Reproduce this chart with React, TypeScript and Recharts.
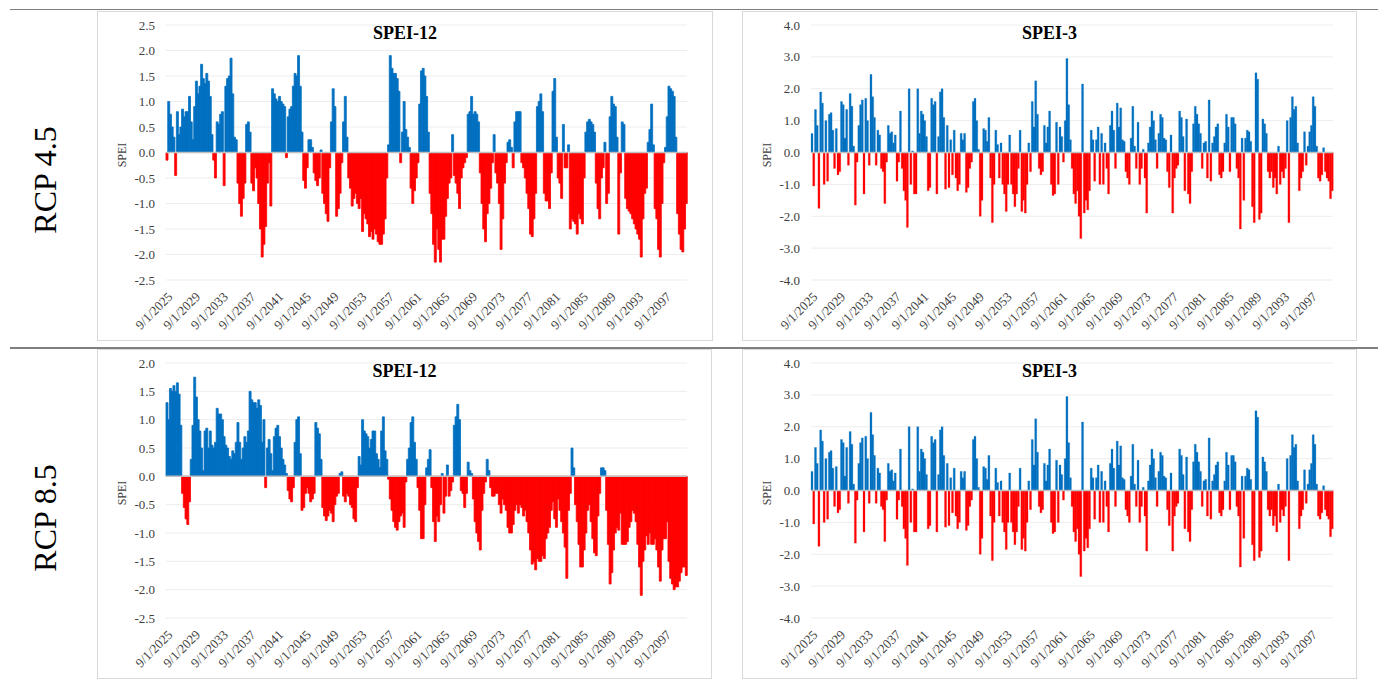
import React from 'react';
import { BarChart, Bar, XAxis, YAxis, CartesianGrid, ReferenceLine, Cell } from 'recharts';

// Quarterly SPEI values (Sep 2025 .. Sep 2100), 4 per year
const tickLabels = [
  '9/1/2025', '9/1/2029', '9/1/2033', '9/1/2037', '9/1/2041', '9/1/2045', '9/1/2049',
  '9/1/2053', '9/1/2057', '9/1/2061', '9/1/2065', '9/1/2069', '9/1/2073', '9/1/2077',
  '9/1/2081', '9/1/2085', '9/1/2089', '9/1/2093', '9/1/2097',
];

const spei12Rcp45 = [
  -0.15, 1.0, 0.75, 0.5, 0.3, -0.45, 0.8, 0.35, 0.5, 0.85, 0.7, 0.8, 0.8, 1.1, 0.6, 0.25,
  0.9, 1.4, 1.15, 1.3, 1.73, 1.45, 1.35, 1.55, 1.4, 1.1, 0.35, -0.15, -0.5, 0.6, 0.55, 0.75,
  0.8, -0.65, 1.3, 1.45, 1.5, 1.85, 1.15, 0.3, 0.25, -0.6, -1.0, -1.25, -0.9, -0.6, 0.55, 0.6,
  0.4, -0.6, -0.75, -0.3, -0.5, -1.0, -1.5, -2.05, -1.8, -1.45, -0.6, -0.2, -1.05, 1.25, 1.15, 1.05,
  1.0, 1.1, 1.0, 0.95, 0.9, -0.1, 0.7, 0.85, 0.9, 1.3, 1.55, 1.5, 1.9, 1.3, 0.4, -0.55,
  -0.7, -0.3, 0.25, 0.25, 0.1, -0.4, -0.55, -0.65, -0.5, 0.05, -0.8, -1.0, -1.2, -1.35, -0.3, 0.6,
  1.25, 0.9, -1.25, -1.1, -0.8, -0.2, 0.6, 1.1, 0.3, -0.5, -0.7, -1.05, -0.9, -0.8, -1.0, -1.1,
  -0.9, -1.55, -1.2, -1.3, -1.4, -1.65, -1.55, -1.7, -1.5, -1.6, -1.75, -1.8, -1.8, -1.6, -1.3, -0.5,
  0.15, 1.9, 1.65, 1.55, 1.55, 1.45, 1.2, -0.2, 0.4, 1.0, 0.45, 0.3, 0.1, -0.7, -1.0, -0.75,
  -0.5, -0.2, 0.95, 1.6, 1.65, 1.5, 1.1, 0.4, -0.8, -1.2, -1.8, -2.15, -1.5, -1.9, -2.15, -1.7,
  -1.7, -1.25, -0.9, -0.6, -0.5, 0.35, -0.45, -0.6, -0.8, -1.1, -0.5, -0.3, -0.2, -0.1, 0.75, 0.8,
  1.1, 0.75, 0.8, 0.75, 0.6, -0.4, -1.0, -1.5, -1.75, -1.2, -1.0, -0.7, -0.2, 0.35, -0.4, -0.6,
  -1.0, -1.9, -1.3, -0.6, -0.2, 0.2, 0.25, 0.1, -0.3, 0.6, 0.8, 0.8, 0.8, -0.2, -0.3, -0.5,
  -0.8, -1.1, -1.6, -1.65, -1.3, -0.8, 0.9, 1.0, 1.15, 0.8, -0.8, -0.95, -0.95, -1.1, -0.4, 1.2,
  1.45, 0.3, -0.5, -0.6, -0.9, 0.55, -0.3, -0.3, 0.15, -1.5, -1.3, -1.35, -1.4, -1.6, -1.2, -1.3,
  -1.4, -0.5, 0.4, 0.6, 0.65, 0.6, 0.55, 0.4, -0.6, -1.1, -1.3, -0.5, -0.3, 0.2, -1.0, -0.8,
  0.7, 1.1, 0.95, 0.9, 0.3, -1.6, -0.4, 0.6, 0.55, -0.9, -1.1, -1.15, -1.2, -1.3, -1.4, -1.5,
  -1.6, -1.7, -2.05, -1.3, -0.8, -0.7, 0.2, 0.45, 0.95, 0.15, -1.1, -1.3, -1.9, -2.05, -1.0, -0.2,
  0.1, 0.7, 1.3, 1.25, 1.2, 1.1, 0.3, -1.2, -1.6, -1.9, -1.95, -1.5, -1.0,
];

const spei12Rcp85 = [
  1.3, 1.0, 1.55, 1.5, 1.6, 1.5, 1.65, 1.45, 0.9, -0.3, -0.55, -0.75, -0.85, -0.45, 0.3, 0.9,
  1.75, 1.4, 1.0, 0.8, 0.5, 0.1, 0.8, 0.85, 0.5, 0.8, 0.55, 0.5, 0.6, 1.2, 1.1, 1.1,
  1.0, 0.7, 0.55, 0.5, 0.35, 0.3, 0.45, 0.4, 0.6, 0.95, 0.6, 0.3, 0.5, 0.7, 0.6, 0.8,
  1.5, 1.35, 1.3, 1.3, 1.2, 1.35, 1.25, 0.6, 1.0, -0.2, 0.5, 0.65, 0.4, 0.1, 0.7, 0.85,
  0.9, 0.7, 0.5, 0.3, 0.2, 0.05, -0.25, -0.4, -0.45, -0.2, 0.6, 1.0, 1.05, 0.4, -0.6, -0.55,
  -0.3, -0.2, -0.3, -0.45, -0.4, -0.3, 0.95, 0.85, 0.75, 0.3, -0.55, -0.7, -0.78, -0.7, -0.6, -0.65,
  -0.8, -0.5, -0.35, -0.3, 0.05, 0.08, -0.35, -0.45, -0.3, -0.35, -0.5, -0.55, -0.75, -0.8, -0.2, 0.35,
  0.2, 1.0, 0.8, 0.75, 0.7, 0.5, 0.65, 0.8, 0.8, 0.4, 0.3, 0.15, 0.8, 1.05, 0.45, 0.3,
  -0.05, -0.4, -0.6, -0.8, -0.9, -0.95, -0.8, -0.7, -0.65, -0.9, -0.1, 0.3, 0.5, 0.95, 1.05, 0.6,
  0.3, -0.2, -0.6, -1.1, -1.1, -0.5, 0.15, 0.3, 0.47, -0.2, -0.8, -1.15, -0.7, -0.8, -0.5, 0.05,
  -0.65, -0.35, 0.2, -0.35, -0.25, -0.1, 0.9, 1.05, 1.27, 1.0, -0.25, -0.3, -0.55, -0.3, 0.25, 0.1,
  0.05, -0.4, -0.8, -1.0, -1.15, -1.3, -0.6, -0.3, -0.1, 0.3, 0.1, -0.2, -0.35, -0.35, -0.3, -0.3,
  -0.5, -0.65, -0.4, -0.5, -0.6, -0.9, -1.0, -1.0, -0.85, -0.6, -0.5, -0.65, -0.5, -0.55, -0.7, -0.6,
  -0.8, -1.0, -1.3, -1.55, -1.5, -1.65, -1.45, -1.5, -1.5, -1.4, -1.45, -1.1, -1.0, -0.9, -0.6, -0.45,
  -0.75, -0.9, -0.4, -0.6, -0.8, -1.0, -1.25, -1.8, -0.6, -0.3, 0.5, 0.15, -0.5, -0.8, -1.2, -1.6,
  -1.6, -1.3, -1.0, -0.6, -0.5, -0.8, -1.1, -1.35, -1.4, -0.7, -0.3, 0.15, 0.15, 0.1, -0.6, -1.2,
  -1.9, -1.7, -1.3, -1.0, -0.9, -0.95, -0.65, -1.2, -1.2, -1.2, -1.15, -0.9, -0.8, -0.6, -0.65, -0.8,
  -1.2, -1.6, -2.1, -1.5, -1.3, -1.05, -1.2, -1.0, -1.2, -1.2, -1.1, -1.3, -1.6, -1.85, -1.3, -1.1,
  -1.1, -0.8, -1.5, -1.8, -1.9, -2.0, -1.95, -1.95, -1.85, -1.7, -1.6, -1.6, -1.75,
];

const spei3 = [
  0.6, -1.05, 1.35, 0.85, -1.75, 1.9, 1.55, -1.0, 1.0, -0.9, 1.2, 1.25, 0.7, -0.5, 0.75, -0.7,
  -0.6, 1.6, 1.5, 0.45, 1.35, -0.4, 1.85, 1.45, 0.2, -1.65, -0.3, 0.85, 1.5, 1.65, -1.3, 1.7,
  1.0, -0.4, 2.45, 1.75, 1.1, -0.4, 0.7, 0.55, -0.5, -0.6, -1.6, -0.3, 0.85, 0.6, 0.65, 0.3,
  0.55, -0.9, -0.3, 1.3, -0.5, -1.2, -1.5, -2.35, 2.0, -1.0, 0.05, -1.3, -1.3, 2.0, 0.6, 1.3,
  1.2, 1.0, 0.5, -1.2, -1.1, 1.7, 1.5, 1.6, -1.3, 0.5, 1.9, 2.0, 1.1, -1.15, 0.85, -1.1,
  0.4, -0.7, 0.7, -0.8, -1.2, -1.0, 0.6, 0.4, 0.6, -1.25, -1.1, -0.5, -0.3, 1.6, 1.7, 1.0,
  0.1, -2.0, -1.5, 0.75, 0.7, 0.35, 1.1, -0.8, -2.2, -1.0, 0.7, 0.25, -0.8, 0.3, -1.0, -1.3,
  -1.85, -1.0, 0.55, -1.0, -1.3, -1.7, -1.3, -0.5, 0.7, -1.85, -1.5, -1.9, -1.0, 0.3, -0.6, 1.6,
  0.8, 2.25, 1.2, -0.5, -0.7, -0.6, 0.85, 0.3, 0.8, 1.3, -1.0, -1.35, -1.3, 0.95, -1.0, 0.8,
  0.5, -0.3, 1.0, 2.95, 1.5, 0.4, -0.5, -1.3, -1.6, -1.2, -2.0, -2.7, 2.15, -1.9, -1.5, -1.8,
  -1.2, 0.7, 0.4, -0.9, 0.4, 0.8, -1.0, 0.6, -1.0, 0.3, -0.5, -1.3, 0.85, 1.3, 0.7, -0.5,
  1.55, 0.8, 1.4, 0.4, 0.35, -0.6, -0.8, -1.0, 0.45, 1.45, 0.2, -0.5, 0.95, -1.0, -0.5, 0.1,
  -0.8, -1.9, 0.3, 0.8, 1.3, 1.0, 0.4, -0.5, 0.6, 1.2, 1.1, 0.45, 0.4, -0.6, -1.1, 0.55,
  -1.9, -0.8, -0.5, -0.4, 1.3, 1.1, 0.5, -1.2, 1.05, -1.3, -1.6, -0.6, 0.9, 1.45, 1.2, 0.9,
  0.6, -0.5, 0.3, 0.35, -0.8, 1.65, -0.9, 0.3, 0.5, 0.8, 0.9, -0.7, -0.8, -0.6, 0.3, 1.2,
  0.8, -0.6, 1.1, 1.1, 0.9, -0.5, -0.8, -2.4, 0.45, -1.5, 0.45, 0.7, 0.65, 0.35, -1.7, -2.2,
  2.5, 2.3, -2.1, -1.9, 1.05, 0.9, 0.6, -0.6, -0.8, -0.6, -1.1, -0.8, -1.3, 0.2, -1.0, -0.6,
  -0.8, -0.5, 1.0, -2.2, 1.1, 1.75, 1.35, 1.45, 0.3, -1.2, -0.8, -0.6, 0.65, -0.4, 0.2, 0.65,
  0.85, 1.75, 1.45, 0.2, -0.8, -0.9, -0.7, 0.15, -0.6, -0.8, -0.9, -1.45, -1.2,
];

const yTicks12a = [-2.5, -2.0, -1.5, -1.0, -0.5, 0.0, 0.5, 1.0, 1.5, 2.0, 2.5];
const yTicks12b = [-2.5, -2.0, -1.5, -1.0, -0.5, 0.0, 0.5, 1.0, 1.5, 2.0];
const yTicks3 = [-4, -3, -2, -1, 0, 1, 2, 3, 4];

const BLUE = '#0070C0';
const RED = '#FF0000';
const FONT = '"Liberation Serif", "Times New Roman", serif';
const TICK_STEP = 16;

type PanelProps = {
  left: number;
  top: number;
  width: number;
  rightMargin: number;
  title: string;
  values: number[];
  yTicks: number[];
  strokeW: number;
};

function Panel({ left, top, width, rightMargin, title, values, yTicks, strokeW }: PanelProps) {
  const height = 330;
  const rows = values.map((v, i) => ({ i, v }));
  const tickIdx = tickLabels.map((_, k) => k * TICK_STEP);
  return (
    <div
      style={{
        position: 'absolute',
        left,
        top,
        width,
        height,
        border: '1px solid #d9d9d9',
        boxSizing: 'border-box',
        background: '#fff',
      }}
    >
      <BarChart
        width={width - 2}
        height={height - 2}
        data={rows}
        margin={{ top: 13, right: rightMargin, bottom: 0, left: 0 }}
        barCategoryGap={0}
        barGap={0}
      >
        <CartesianGrid vertical={false} stroke="#ededed" />
        <XAxis
          dataKey="i"
          type="category"
          ticks={tickIdx}
          interval={0}
          tickFormatter={(v: number) => tickLabels[Math.round(v / TICK_STEP)]}
          axisLine={false}
          tickLine={false}
          height={60}
          tickMargin={5}
          tick={{ angle: -45, textAnchor: 'end', fontSize: 13, fill: '#404040', fontFamily: FONT }}
        />
        <YAxis
          type="number"
          domain={[yTicks[0], yTicks[yTicks.length - 1]]}
          ticks={yTicks}
          interval={0}
          tickFormatter={(v: number) => v.toFixed(1)}
          axisLine={false}
          tickLine={false}
          width={68}
          tickMargin={5}
          tick={{ fontSize: 13, fill: '#404040', fontFamily: FONT }}
        />
        <Bar dataKey="v" isAnimationActive={false}>
          {rows.map((r) => {
            const c = r.v >= 0 ? BLUE : RED;
            return <Cell key={r.i} fill={c} stroke={c} strokeWidth={strokeW} />;
          })}
        </Bar>
        <ReferenceLine y={0} stroke="#bfbfbf" strokeWidth={1.5} />
      </BarChart>
      <div
        style={{
          position: 'absolute',
          left: 0,
          top: 10,
          width: '100%',
          textAlign: 'center',
          fontFamily: FONT,
          fontWeight: 'bold',
          fontSize: 18,
          lineHeight: '22px',
          color: '#000',
        }}
      >
        {title}
      </div>
      <div
        style={{
          position: 'absolute',
          left: 24,
          top: 143,
          transform: 'translate(-50%, -50%) rotate(-90deg)',
          fontFamily: FONT,
          fontSize: 12,
          color: '#404040',
          whiteSpace: 'nowrap',
        }}
      >
        SPEI
      </div>
    </div>
  );
}

function RowLabel({ text, cx, cy }: { text: string; cx: number; cy: number }) {
  return (
    <div
      style={{
        position: 'absolute',
        left: cx,
        top: cy,
        transform: 'translate(-50%, -50%) rotate(-90deg)',
        fontFamily: FONT,
        fontSize: 32,
        lineHeight: '32px',
        color: '#000',
        whiteSpace: 'nowrap',
      }}
    >
      {text}
    </div>
  );
}

export default function App() {
  return (
    <div style={{ position: 'absolute', left: 0, top: 0, width: 1378, height: 682, background: '#fff', overflow: 'hidden' }}>
      <div style={{ position: 'absolute', left: 10, top: 9, width: 1368, height: 1, background: '#7f7f7f' }} />
      <div style={{ position: 'absolute', left: 10, top: 347, width: 1368, height: 2, background: '#7f7f7f' }} />
      <RowLabel text="RCP 4.5" cx={45} cy={180} />
      <RowLabel text="RCP 8.5" cx={45} cy={518} />
      <Panel left={97} top={11} width={616} rightMargin={25} title="SPEI-12" values={spei12Rcp45} yTicks={yTicks12a} strokeW={0.8} />
      <Panel left={742} top={11} width={615} rightMargin={23} title="SPEI-3" values={spei3} yTicks={yTicks3} strokeW={0.25} />
      <Panel left={97} top={349} width={615} rightMargin={24} title="SPEI-12" values={spei12Rcp85} yTicks={yTicks12b} strokeW={0.8} />
      <Panel left={742} top={349} width={615} rightMargin={23} title="SPEI-3" values={spei3} yTicks={yTicks3} strokeW={0.25} />
    </div>
  );
}
